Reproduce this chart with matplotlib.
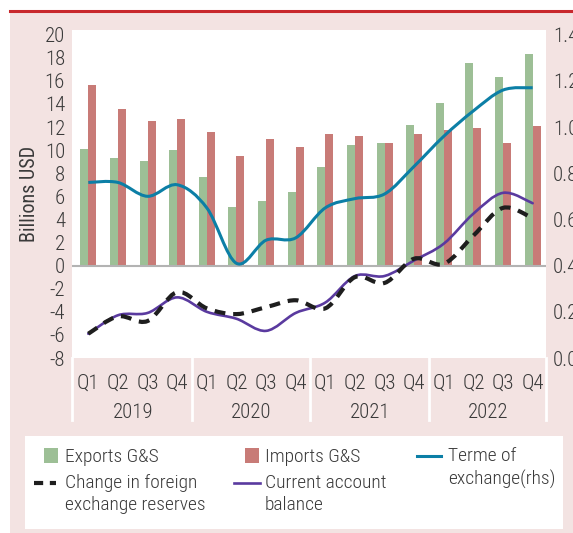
import matplotlib
matplotlib.use("Agg")
import matplotlib.pyplot as plt
from matplotlib.path import Path
from matplotlib.patches import PathPatch, Rectangle
from matplotlib.lines import Line2D
import numpy as np

plt.rcParams['font.family'] = ['Roboto Condensed', 'Archivo Narrow', 'PT Sans Narrow',
                               'Liberation Sans Narrow', 'DejaVu Sans']
plt.rcParams['font.weight'] = 'light'

quarters = ["Q1", "Q2", "Q3", "Q4"] * 4
years = ["2019", "2020", "2021", "2022"]
exports = [10.1, 9.3, 9.1, 10.0, 7.7, 5.1, 5.6, 6.4, 8.5, 10.4, 10.6, 12.2, 14.1, 17.5, 16.3, 18.3]
imports = [15.6, 13.6, 12.5, 12.7, 11.6, 9.5, 11.0, 10.3, 11.4, 11.2, 10.6, 11.4, 11.7, 11.9, 10.6, 12.1]
reserves = [-5.9, -4.4, -4.8, -2.3, -3.7, -4.2, -3.6, -3.0, -3.7, -1.0, -1.5, 0.6, 0.15, 2.6, 5.0, 4.1]
current = [-5.9, -4.3, -4.1, -2.75, -4.0, -4.6, -5.65, -4.1, -3.2, -0.9, -0.9, 0.45, 1.9, 4.5, 6.3, 5.4]
terms = [0.76, 0.76, 0.70, 0.75, 0.65, 0.41, 0.51, 0.52, 0.65, 0.69, 0.71, 0.83, 0.96, 1.07, 1.16, 1.17]
left_ticks = list(range(-8, 21, 2))
right_ticks = [0.0, 0.2, 0.4, 0.6, 0.8, 1.0, 1.2, 1.4]

GREEN = "#9dbf96"
RED = "#c87b77"
BLUE = "#0c7fa6"
PURPLE = "#5a3a9f"
PINK = "#f3e3e2"
TXT = "#3a3a3a"

W, H = 573, 533
fig = plt.figure(figsize=(W / 100, H / 100), dpi=100, facecolor="white")

def fx(px):
    return px / W

def fy(py):
    return 1 - py / H

# background frame
fig.patches.append(Rectangle((fx(10), 0), 1 - fx(10), fy(11), transform=fig.transFigure,
                             facecolor=PINK, edgecolor="none", zorder=-10))
fig.lines.append(Line2D([fx(10), 1], [fy(10.5), fy(10.5)], transform=fig.transFigure,
                        color="#c8282d", lw=2.2, zorder=-5))

ax = fig.add_axes([fx(72), fy(358), fx(546) - fx(72), fy(30) - fy(358)])
ax.set_facecolor("white")
for s in ax.spines.values():
    s.set_visible(False)

x = np.arange(len(exports))
bw = 0.27
ax.bar(x - bw / 2, exports, width=bw, color=GREEN, zorder=2)
ax.bar(x + bw / 2, imports, width=bw, color=RED, zorder=2)
ax.axhline(0, color="#b3b3b3", lw=1.5, zorder=3)

def smooth_path(xs, ys):
    pts = np.column_stack([xs, ys]).astype(float)
    n = len(pts)
    verts = [pts[0]]
    codes = [Path.MOVETO]
    for i in range(n - 1):
        p0 = pts[i - 1] if i > 0 else pts[i]
        p1 = pts[i]
        p2 = pts[i + 1]
        p3 = pts[i + 2] if i + 2 < n else pts[i + 1]
        c1 = p1 + (p2 - p0) / 6.0
        c2 = p2 - (p3 - p1) / 6.0
        verts += [c1, c2, p2]
        codes += [Path.CURVE4] * 3
    return Path(verts, codes)

ax.add_patch(PathPatch(smooth_path(x, current), fill=False, edgecolor=PURPLE, lw=1.9,
                       zorder=4, capstyle="round"))
ax.add_patch(PathPatch(smooth_path(x, reserves), fill=False, edgecolor="#1e1e1e", lw=3.0,
                       linestyle=(0, (2.6, 1.9)), zorder=5))

FS = 15
ax.set_xlim(-0.55, 15.45)
ax.set_ylim(-8, 20.4)
ax.set_yticks(left_ticks)
ax.set_yticklabels([str(t) for t in left_ticks])
ax.tick_params(axis="y", length=0, pad=5, labelsize=FS, labelcolor=TXT)
ax.set_xticks(x)
ax.set_xticklabels(quarters)
ax.tick_params(axis="x", length=0, pad=11, labelsize=FS, labelcolor=TXT)
ax.set_ylabel("Billions USD", fontsize=14.5, color=TXT, labelpad=4)

for yi, yr in enumerate(years):
    ax.text(yi * 4 + 1.5, -0.165, yr, transform=ax.get_xaxis_transform(), ha="center",
            va="center", fontsize=FS, color=TXT)
for b in [-0.55, 3.5, 7.5, 11.5, 15.45]:
    ax.plot([b, b], [0, -0.19], transform=ax.get_xaxis_transform(), clip_on=False,
            color="white", lw=2, zorder=6)

ax2 = ax.twinx()
for s in ax2.spines.values():
    s.set_visible(False)
ax2.add_patch(PathPatch(smooth_path(x, terms), fill=False, edgecolor=BLUE, lw=2.2, zorder=4))
ax2.set_ylim(0, 1.42)
ax2.set_yticks(right_ticks)
ax2.set_yticklabels([f"{t:.1f}" for t in right_ticks])
ax2.tick_params(axis="y", length=0, pad=5, labelsize=FS, labelcolor=TXT)

# legend box
fig.patches.append(Rectangle((fx(25), fy(529)), fx(563) - fx(25), fy(436) - fy(529),
                             transform=fig.transFigure, facecolor="white", edgecolor="none", zorder=-4))
fs = 14
fig.patches.append(Rectangle((fx(44), fy(463)), fx(14), fy(448) - fy(463), transform=fig.transFigure,
                             facecolor=GREEN, edgecolor="none"))
fig.text(fx(65), fy(457), "Exports G&S", fontsize=fs, color=TXT, va="center")
fig.patches.append(Rectangle((fx(245), fy(463)), fx(14), fy(448) - fy(463), transform=fig.transFigure,
                             facecolor=RED, edgecolor="none"))
fig.text(fx(265), fy(457), "Imports G&S", fontsize=fs, color=TXT, va="center")
fig.lines.append(Line2D([fx(417), fx(441)], [fy(456), fy(456)], transform=fig.transFigure,
                        color=BLUE, lw=2.2))
fig.text(fx(448), fy(447), "Terme of\nexchange(rhs)", fontsize=fs, color=TXT, va="top",
         linespacing=1.3)
fig.lines.append(Line2D([fx(34), fx(56)], [fy(483), fy(483)], transform=fig.transFigure,
                        color="#1e1e1e", lw=3.0, linestyle=(0, (2.2, 1.6))))
fig.text(fx(65), fy(474), "Change in foreign\nexchange reserves", fontsize=fs, color=TXT,
         va="top", linespacing=1.3)
fig.lines.append(Line2D([fx(234), fx(260)], [fy(483), fy(483)], transform=fig.transFigure,
                        color=PURPLE, lw=1.9))
fig.text(fx(265), fy(474), "Current account\nbalance", fontsize=fs, color=TXT, va="top",
         linespacing=1.3)

fig.savefig("out.png", dpi=100, facecolor="white")
